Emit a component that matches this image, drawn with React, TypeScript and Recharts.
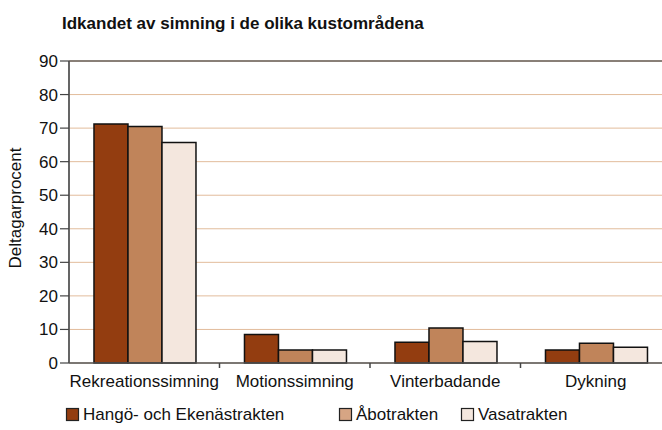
import { BarChart, Bar, XAxis, YAxis, CartesianGrid, Legend, ReferenceLine } from 'recharts'

const CATEGORIES = ['Rekreationssimning', 'Motionssimning', 'Vinterbadande', 'Dykning']
const HANGO = [71.2, 8.5, 6.2, 3.9]
const ABO = [70.5, 3.9, 10.4, 5.9]
const VASA = [65.7, 3.9, 6.4, 4.7]
const Y_TICKS = [0, 10, 20, 30, 40, 50, 60, 70, 80, 90]

const SERIES = [
  { key: 'hango', name: 'Hangö- och Ekenästrakten', color: '#933d10', swatch: '#933d10' },
  { key: 'abo', name: 'Åbotrakten', color: '#c0845a', swatch: '#d6a584' },
  { key: 'vasa', name: 'Vasatrakten', color: '#f4e7de', swatch: '#f4e7de' },
]

const data = CATEGORIES.map((name, i) => ({ name, hango: HANGO[i], abo: ABO[i], vasa: VASA[i] }))

const W = 680
const H = 430
const M = { top: 61, right: 9, left: 0, bottom: 0 }
const Y_W = 69
const BAND = (W - M.right - Y_W) / CATEGORIES.length
const FONT = '"Liberation Sans", Arial, sans-serif'
const LEGEND_X = [66, 339, 461]

function CategoryTick(props: any) {
  const { x, y, payload, index } = props
  return (
    <g>
      <text x={x} y={y + 24} textAnchor="middle" fill="#111" fontSize={17} fontFamily={FONT}>
        {payload.value}
      </text>
      {index < CATEGORIES.length - 1 && <line x1={x + BAND / 2} x2={x + BAND / 2} y1={y} y2={y + 5} stroke="#444" strokeWidth={1.5} />}
    </g>
  )
}

function LegendBox() {
  return (
    <svg width={W} height={30} style={{ display: 'block' }}>
      {SERIES.map((s, i) => (
        <g key={s.key}>
          <rect x={LEGEND_X[i] + 0.5} y={9.5} width={12} height={12} fill={s.swatch} stroke="#222" strokeWidth={1.2} />
          <text x={LEGEND_X[i] + 17} y={21} fontSize={17} fontFamily={FONT} fill="#111">
            {s.name}
          </text>
        </g>
      ))}
    </svg>
  )
}

export default function App() {
  return (
    <div style={{ position: 'fixed', left: 0, top: 0, width: 662, height: 430, overflow: 'hidden', background: '#fff', fontFamily: FONT }}>
      <div style={{ position: 'absolute', left: 62, top: 14, fontSize: 17, fontWeight: 'bold', color: '#111', whiteSpace: 'nowrap' }}>
        Idkandet av simning i de olika kustområdena
      </div>
      <BarChart width={W} height={H} data={data} margin={M} barCategoryGap="16.6%" barGap={0}>
        <CartesianGrid stroke="#e2bc9c" vertical={false} />
        <ReferenceLine y={90} stroke="#222" strokeWidth={1.2} />
        <XAxis
          dataKey="name"
          tick={<CategoryTick />}
          tickLine={false}
          tickSize={0}
          tickMargin={0}
          height={36}
          interval={0}
          axisLine={{ stroke: '#555', strokeWidth: 1.5 }}
        />
        <YAxis
          domain={[0, 90]}
          ticks={Y_TICKS}
          width={Y_W}
          tick={{ fill: '#111', fontSize: 17, fontFamily: FONT }}
          tickSize={9}
          tickMargin={2}
          tickLine={{ stroke: '#444', strokeWidth: 1.2 }}
          axisLine={{ stroke: '#555', strokeWidth: 1.8 }}
          label={{ value: 'Deltagarprocent', angle: -90, position: 'insideLeft', offset: 15, dy: -4, style: { fill: '#111', fontSize: 17, fontFamily: FONT, textAnchor: 'middle' } }}
        />
        <Legend verticalAlign="bottom" height={31} content={() => <LegendBox />} wrapperStyle={{ left: 0, width: W }} />
        {SERIES.map((s) => (
          <Bar key={s.key} dataKey={s.key} name={s.name} fill={s.color} stroke="#111" strokeWidth={1.5} isAnimationActive={false} />
        ))}
      </BarChart>
    </div>
  )
}
